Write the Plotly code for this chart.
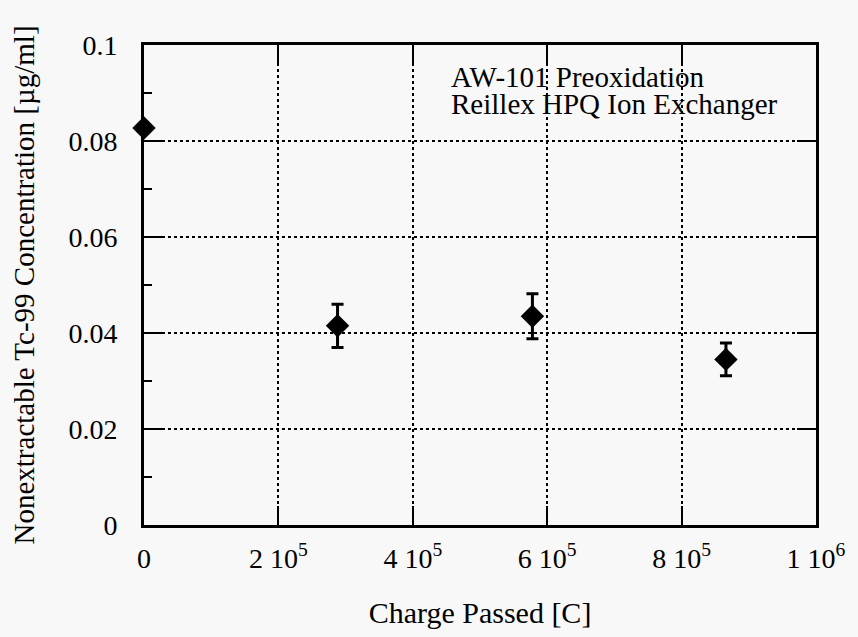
import plotly.graph_objects as go

# Data
charge = [0, 2.88e5, 5.78e5, 8.66e5]
conc = [0.0827, 0.0415, 0.0435, 0.0345]
conc_err = [0.0, 0.0045, 0.0047, 0.0034]

x_tickvals = [0, 2e5, 4e5, 6e5, 8e5, 1e6]
x_ticktext = ["0", "2 10<sup>5</sup>", "4 10<sup>5</sup>", "6 10<sup>5</sup>",
              "8 10<sup>5</sup>", "1 10<sup>6</sup>"]
y_tickvals = [0, 0.02, 0.04, 0.06, 0.08, 0.1]
y_ticktext = ["0", "0.02", "0.04", "0.06", "0.08", "0.1"]

note_lines = ["AW-101 Preoxidation", "Reillex HPQ Ion Exchanger"]

FONT = "Liberation Serif"
BG = "#f8f8f8"

fig = go.Figure()
fig.add_trace(go.Scatter(
    x=charge, y=conc, mode="markers",
    marker=dict(symbol="diamond", size=18, color="black"),
    error_y=dict(type="data", array=conc_err, visible=True,
                 color="black", thickness=3, width=6),
    cliponaxis=False, showlegend=False,
))
# empty trace so the overlay axis (left minor ticks) gets drawn
fig.add_trace(go.Scatter(x=[None], y=[None], yaxis="y2", mode="markers",
                         showlegend=False, hoverinfo="skip"))

axis_common = dict(
    showline=True, linecolor="black", linewidth=3, mirror="ticks",
    ticks="inside", ticklen=19, tickwidth=2, tickcolor="black",
    showgrid=True, gridcolor="black", gridwidth=2, griddash="dot",
    zeroline=False,
    tickfont=dict(family=FONT, size=28, color="black"),
)

fig.update_xaxes(
    range=[0, 1e6], tickvals=x_tickvals, ticktext=x_ticktext,
    title=dict(text="Charge Passed [C]", font=dict(family=FONT, size=30, color="black"),
               standoff=30),
    ticklabelstandoff=6,
    **axis_common,
)
fig.update_yaxes(
    range=[0, 0.1], tickvals=y_tickvals, ticktext=y_ticktext,
    title=dict(text="Nonextractable Tc-99 Concentration [\u00b5g/ml]",
               font=dict(family=FONT, size=29, color="black"), standoff=26),
    ticklabelstandoff=18,
    **axis_common,
)

# minor ticks on the left axis only (not mirrored)
fig.update_layout(yaxis2=dict(
    overlaying="y", side="left", range=[0, 0.1], dtick=0.01,
    ticks="inside", ticklen=8, tickwidth=2, tickcolor="black",
    showticklabels=False, showgrid=False, showline=False, zeroline=False,
))

for i, line in enumerate(note_lines):
    fig.add_annotation(
        x=452, y=[77, 104][i], xref="paper", yref="paper",
        text=line, showarrow=False, xanchor="left", yanchor="middle",
        font=dict(family=FONT, size=29, color="black"),
    )

fig.update_layout(
    width=858, height=637,
    margin=dict(l=144, r=36, t=45, b=112),
    paper_bgcolor=BG, plot_bgcolor=BG,
)

# convert annotation pixel positions to paper coords
pw = 858 - 144 - 36
ph = 637 - 45 - 112
for ann in fig.layout.annotations:
    ann.x = (ann.x - 144) / pw
    ann.y = 1 - (ann.y - 45) / ph

fig.write_html("out.html")
